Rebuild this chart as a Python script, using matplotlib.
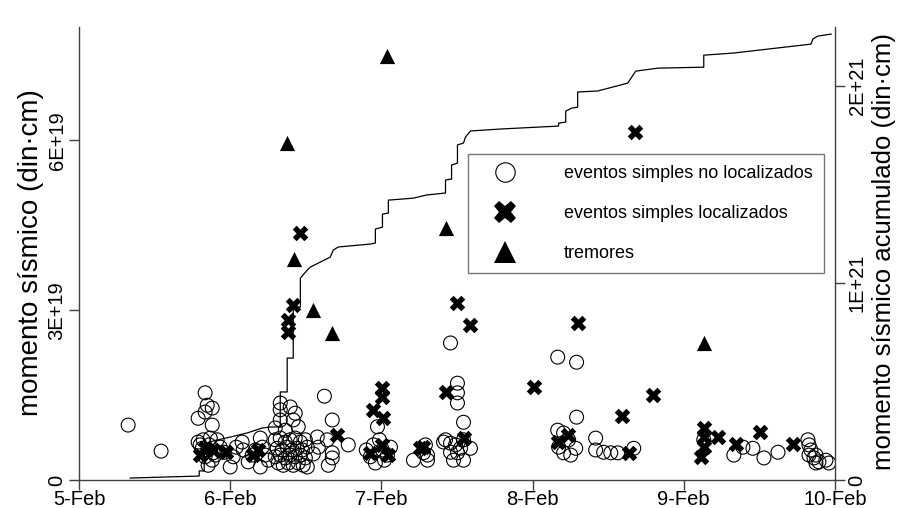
import matplotlib
matplotlib.use("Agg")
import matplotlib.pyplot as plt
from matplotlib.lines import Line2D

plt.rcParams['font.family'] = ['Liberation Sans', 'DejaVu Sans']

# x: days since 5-Feb ; left values in 1E19 din·cm ; cumulative in 1E21 din·cm
xtick_labels = ['5-Feb', '6-Feb', '7-Feb', '8-Feb', '9-Feb', '10-Feb']
left_ticks = [0, 3, 6]
left_tick_labels = ['0', '3E+19', '6E+19']
right_ticks = [0, 1, 2]
right_tick_labels = ['0', '1E+21', '2E+21']

circ_day = [0.325, 0.543,
            0.834, 0.848, 0.881, 0.788, 0.881, 0.834, 0.788, 0.821, 0.868, 0.914, 0.815, 0.854,
            0.888, 0.834, 0.881, 0.854, 0.934, 1.000, 1.079, 1.086, 1.119, 1.199, 1.212, 1.199,
            0.801, 0.861, 0.901, 0.960, 1.020, 1.040, 1.146, 1.166, 1.232, 1.252,
            1.331, 1.331, 1.331, 1.298, 1.397, 1.430, 1.417, 1.450, 1.364,
            1.298, 1.331, 1.364, 1.397, 1.430, 1.464, 1.497,
            1.311, 1.344, 1.377, 1.410, 1.443, 1.477, 1.510,
            1.298, 1.331, 1.364, 1.397, 1.430, 1.464, 1.497,
            1.318, 1.351, 1.384, 1.417, 1.450, 1.483, 1.510,
            1.623, 1.675, 1.576, 1.583, 1.675, 1.675, 1.781, 1.642, 1.649, 1.550,
            1.974, 1.927, 1.947, 1.987, 2.007, 2.040, 1.960, 2.020, 1.900, 2.060,
            2.212, 2.278, 2.305, 2.291, 2.305,
            2.457, 2.503, 2.503, 2.503, 2.543, 2.411, 2.457, 2.503, 2.543, 2.589, 2.523, 2.477,
            2.490, 2.424, 2.457, 2.543,
            3.166, 3.291, 3.291, 3.166, 3.205, 3.238, 3.172, 3.205, 3.285, 3.252, 3.417, 3.417,
            3.470, 3.517, 3.563, 3.669,
            4.132,
            4.331, 4.391, 4.457, 4.530, 4.623,
            4.821, 4.828, 4.841, 4.861, 4.874, 4.894, 4.940, 4.960, 4.828, 4.874]
circ_val = [0.97, 0.51,
            1.54, 1.32, 1.27, 1.09, 0.97, 1.20, 0.67, 0.71, 0.74, 0.71, 0.56, 0.53,
            0.48, 0.41, 0.35, 0.26, 0.58, 0.23, 0.67, 0.53, 0.32, 0.74, 0.58, 0.23,
            0.62, 0.62, 0.44, 0.49, 0.41, 0.58, 0.44, 0.53, 0.44, 0.35,
            1.36, 1.24, 1.06, 0.92, 1.29, 1.18, 1.06, 0.94, 0.88,
            0.71, 0.74, 0.67, 0.71, 0.74, 0.67, 0.71,
            0.56, 0.53, 0.58, 0.53, 0.56, 0.53, 0.58,
            0.41, 0.44, 0.39, 0.44, 0.41, 0.44, 0.39,
            0.30, 0.26, 0.30, 0.26, 0.30, 0.26, 0.23,
            1.48, 1.06, 0.76, 0.58, 0.48, 0.39, 0.62, 0.71, 0.26, 0.46,
            0.94, 0.41, 0.62, 0.71, 0.53, 0.44, 0.30, 0.35, 0.53, 0.58,
            0.35, 0.48, 0.35, 0.62, 0.44,
            2.42, 1.71, 1.54, 1.36, 1.02, 0.67, 0.65, 0.48, 0.35, 0.56, 0.56, 0.35,
            0.62, 0.71, 0.49, 0.71,
            2.17, 2.08, 1.11, 0.88, 0.83, 0.71, 0.58, 0.48, 0.56, 0.44, 0.74, 0.53,
            0.49, 0.48, 0.48, 0.56,
            0.71,
            0.44, 0.58, 0.56, 0.39, 0.49,
            0.71, 0.62, 0.53, 0.39, 0.30, 0.32, 0.35, 0.30, 0.44, 0.44]

cross_day = [3.675, 1.464, 1.417, 1.384, 1.384, 2.503, 2.589, 3.298, 3.007, 3.795, 3.589,
             2.424, 2.543, 3.232, 3.166, 3.636, 2.278,
             2.007, 2.007, 1.947, 2.013, 1.927, 2.046, 2.007,
             1.709, 2.258,
             4.132, 4.132, 4.113, 4.132, 4.225, 4.344, 4.503, 4.722,
             0.801, 0.834, 0.887, 0.974, 1.152, 1.185]
cross_val = [6.14, 4.36, 3.09, 2.82, 2.61, 3.12, 2.74, 2.77, 1.64, 1.50, 1.13,
             1.55, 0.74, 0.79, 0.67, 0.48, 0.58,
             1.62, 1.47, 1.24, 1.09, 0.48, 0.44, 0.62,
             0.79, 0.56,
             0.92, 0.76, 0.41, 0.58, 0.76, 0.64, 0.85, 0.64,
             0.44, 0.56, 0.53, 0.49, 0.44, 0.53]

trem_day = [2.040, 1.377, 1.424, 1.550, 1.675, 2.424, 4.132]
trem_val = [7.48, 5.96, 3.90, 3.00, 2.59, 4.45, 2.42]

cum_day = [0.338, 0.795, 0.795, 0.828, 0.828, 0.887, 1.000, 1.113, 1.212, 1.265, 1.331, 1.331,
           1.377, 1.377, 1.417, 1.417, 1.464, 1.464, 1.510, 1.530, 1.662, 1.682, 1.715, 1.927,
           1.960, 1.960, 2.007, 2.007, 2.046, 2.046, 2.212, 2.298, 2.424, 2.424, 2.464, 2.464,
           2.503, 2.503, 2.543, 2.556, 2.589, 2.788, 3.172, 3.172, 3.219, 3.219, 3.258, 3.298,
           3.298, 3.430, 3.629, 3.682, 3.828, 4.132, 4.132, 4.331, 4.841, 4.854, 4.887, 4.974]
cum_val = [0.010, 0.020, 0.046, 0.046, 0.183, 0.198, 0.218, 0.239, 0.264, 0.269, 0.269, 0.447,
           0.447, 0.619, 0.619, 0.878, 0.878, 1.025, 1.066, 1.081, 1.132, 1.168, 1.183, 1.198,
           1.203, 1.274, 1.284, 1.350, 1.355, 1.421, 1.431, 1.447, 1.457, 1.523, 1.528, 1.599,
           1.609, 1.701, 1.711, 1.741, 1.772, 1.782, 1.797, 1.812, 1.817, 1.873, 1.888, 1.893,
           1.970, 1.975, 2.015, 2.076, 2.091, 2.096, 2.157, 2.168, 2.213, 2.239, 2.254, 2.264]

E19 = 1e19
E21 = 1e21

fig = plt.figure(figsize=(9.06, 5.08), dpi=100)
ax = fig.add_axes([79 / 906, 1 - 480 / 508, 756 / 906, 453 / 508])
ax2 = ax.twinx()

spine_c = '#404040'
ax.scatter(circ_day, [v * E19 for v in circ_val], s=100, facecolors='none',
           edgecolors='black', linewidths=0.8, marker='o', zorder=3)
ax.scatter(cross_day, [v * E19 for v in cross_val], s=125, c='black', marker='X',
           linewidths=0, zorder=4)
ax.scatter(trem_day, [v * E19 for v in trem_val], s=120, c='black', marker='^',
           linewidths=0, zorder=5)
ax2.plot(cum_day, [v * E21 for v in cum_val], color='black', lw=0.9, zorder=6)

ax.set_xlim(0, 5)
ax.set_ylim(0, 8e19)
ax2.set_ylim(0, 2.3e21)

ax.set_xticks(range(6))
ax.set_xticklabels(xtick_labels, fontsize=14.5)
ax.set_yticks([t * E19 for t in left_ticks])
ax.set_yticklabels(left_tick_labels, fontsize=14.5, rotation=90, va='center')
ax2.set_yticks([t * E21 for t in right_ticks])
ax2.set_yticklabels(right_tick_labels, fontsize=14.5, rotation=90, va='center')

for a in (ax, ax2):
    a.spines['top'].set_visible(False)
    for s in ('left', 'right', 'bottom'):
        a.spines[s].set_color(spine_c)
        a.spines[s].set_linewidth(1.0)
    a.tick_params(direction='out', length=7, width=1.0, color=spine_c, pad=2)
ax.tick_params(axis='x', pad=0.5)
ax.spines['right'].set_visible(False)
ax2.spines['left'].set_visible(False)
ax2.spines['bottom'].set_visible(False)

ax.set_ylabel('momento sísmico (din·cm)', fontsize=20)
ax.yaxis.set_label_coords(-0.046, 0.503)
ax2.set_ylabel('momento sísmico acumulado (din·cm)', fontsize=18.5, rotation=90)
ax2.yaxis.set_label_coords(1.049, 0.505)

handles = [
    Line2D([], [], linestyle='none', marker='o', markersize=14, markerfacecolor='none',
           markeredgecolor='black', markeredgewidth=0.8),
    Line2D([], [], linestyle='none', marker='X', markersize=16, markerfacecolor='black',
           markeredgewidth=0),
    Line2D([], [], linestyle='none', marker='^', markersize=16, markerfacecolor='black',
           markeredgewidth=0),
]
labels = ['eventos simples no localizados', 'eventos simples localizados', 'tremores']
leg = ax2.legend(handles, labels, loc='upper left', bbox_to_anchor=(0.515, 0.719),
                 fontsize=13, frameon=True, fancybox=False, shadow=False,
                 borderpad=0.6, labelspacing=1.28, handlelength=2.9, handletextpad=1.8,
                 borderaxespad=0)
leg.get_frame().set_edgecolor('#555555')
leg.get_frame().set_linewidth(1.0)
leg.set_zorder(10)

fig.savefig('out.png', dpi=100)
